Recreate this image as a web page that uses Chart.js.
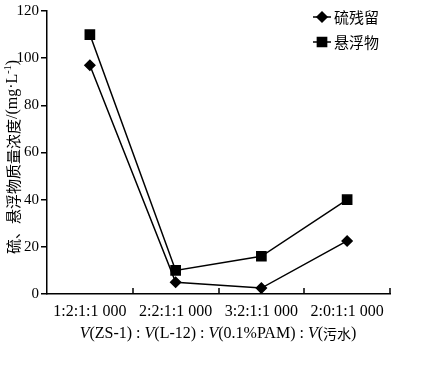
<!DOCTYPE html>
<html>
<head>
<meta charset="utf-8">
<script src="https://cdn.jsdelivr.net/npm/chart.js@4/dist/chart.umd.min.js"></script>
<style>
    body { margin: 0; background: #fff; }
    #wrap { width: 422px; height: 368px; }
</style>
</head>
<body>
<div id="wrap"><canvas id="grafico" width="422" height="368"></canvas></div>
<script>
const categorias = ['1:2:1:1 000', '2:2:1:1 000', '3:2:1:1 000', '2:0:1:1 000'];
const nomesSeries = ['硫残留', '悬浮物'];
const sulfur = [97, 5, 2.5, 22.5];
const suspensos = [110, 10, 16, 40];
const yTicks = [0, 20, 40, 60, 80, 100, 120];

const serif = '"Liberation Serif", "Times New Roman", serif';
const cjk = '"Noto Sans CJK SC", sans-serif';

// desenha pedacos de texto com fontes diferentes, centrados em (cx, cy)
function textoMisto(ctx, partes, cx, cy) {
    let total = 0;
    partes.forEach(p => { ctx.font = p[1]; total += ctx.measureText(p[0]).width; });
    let x = cx - total / 2;
    ctx.textBaseline = 'middle';
    ctx.textAlign = 'left';
    ctx.fillStyle = '#000';
    partes.forEach(p => {
        ctx.font = p[1];
        ctx.fillText(p[0], x, cy + (p[2] || 0));
        x += ctx.measureText(p[0]).width;
    });
}

// ticks do eixo x para dentro, legenda e titulos
const extras = {
    id: 'extras',
    afterDraw(chart) {
        const ctx = chart.ctx;
        const area = chart.chartArea;
        ctx.save();
        ctx.strokeStyle = '#000';
        ctx.lineWidth = 1.5;
        const n = categorias.length;
        for (let i = 1; i <= n; i++) {
            const px = Math.round(area.left + i * (area.right - area.left) / n);
            ctx.beginPath();
            ctx.moveTo(px, area.bottom);
            ctx.lineTo(px, area.bottom - 6);
            ctx.stroke();
        }

        // legenda
        const legendas = [
            { y: 17, style: 'rectRot', r: 5 },
            { y: 42, style: 'rect', r: 6.5 }
        ];
        legendas.forEach((l, i) => {
            ctx.beginPath();
            ctx.moveTo(313, l.y);
            ctx.lineTo(331, l.y);
            ctx.lineWidth = 1.5;
            ctx.stroke();
            ctx.fillStyle = '#000';
            Chart.helpers.drawPoint(ctx, { pointStyle: l.style, radius: l.r, rotation: 0, borderWidth: 1 }, 322, l.y);
            ctx.fill();
            ctx.font = '15px ' + cjk;
            ctx.textBaseline = 'middle';
            ctx.textAlign = 'left';
            ctx.fillText(nomesSeries[i], 334, l.y);
        });

        // titulo do eixo x com V em italico
        const it = 'italic 16px ' + serif, rg = '16px ' + serif;
        textoMisto(ctx, [
            ['V', it], ['(ZS-1) : ', rg], ['V', it], ['(L-12) : ', rg],
            ['V', it], ['(0.1%PAM) : ', rg], ['V', it], ['(', rg],
            ['污水', '14px ' + cjk], [')', rg]
        ], 218, 334);

        // titulo do eixo y, rodado
        ctx.save();
        ctx.translate(13, 157);
        ctx.rotate(-Math.PI / 2);
        textoMisto(ctx, [
            ['硫、悬浮物质量浓度', '15px ' + cjk], ['/(mg·L', '16px ' + serif],
            ['-1', '10px ' + serif, -5], [')', '16px ' + serif]
        ], 0, 0);
        ctx.restore();
        ctx.restore();
    }
};

new Chart(document.getElementById('grafico'), {
    type: 'line',
    data: {
        labels: categorias,
        datasets: [{
            label: nomesSeries[0],
            data: sulfur,
            borderColor: '#000',
            backgroundColor: '#000',
            borderWidth: 1.5,
            pointStyle: 'rectRot',
            pointRadius: 5,
            pointBackgroundColor: '#000',
            pointBorderColor: '#000'
        }, {
            label: nomesSeries[1],
            data: suspensos,
            borderColor: '#000',
            backgroundColor: '#000',
            borderWidth: 1.5,
            pointStyle: 'rect',
            pointRadius: 6.5,
            pointBackgroundColor: '#000',
            pointBorderColor: '#000'
        }]
    },
    options: {
        responsive: false,
        animation: false,
        layout: { padding: { top: 11, right: 32, left: 0, bottom: 0 } },
        scales: {
            x: {
                offset: true,
                grid: { display: true, drawOnChartArea: false, drawTicks: false, offset: true },
                border: { color: '#000', width: 1.5 },
                ticks: { color: '#000', padding: 8, font: { family: serif, size: 16 }, maxRotation: 0 },
                afterFit(scale) { scale.height = 74; }
            },
            y: {
                min: 0,
                max: 120,
                afterBuildTicks(scale) { scale.ticks = yTicks.map(v => ({ value: v })); },
                grid: { drawOnChartArea: false, drawTicks: true, tickLength: 6, color: '#000', lineWidth: 1.5 },
                border: { color: '#000', width: 1.5 },
                ticks: { color: '#000', padding: 2, font: { family: serif, size: 15 } },
                afterFit(scale) { scale.width = 47; }
            }
        },
        plugins: {
            legend: { display: false },
            tooltip: { enabled: false }
        }
    },
    plugins: [extras]
});
</script>
</body>
</html>
